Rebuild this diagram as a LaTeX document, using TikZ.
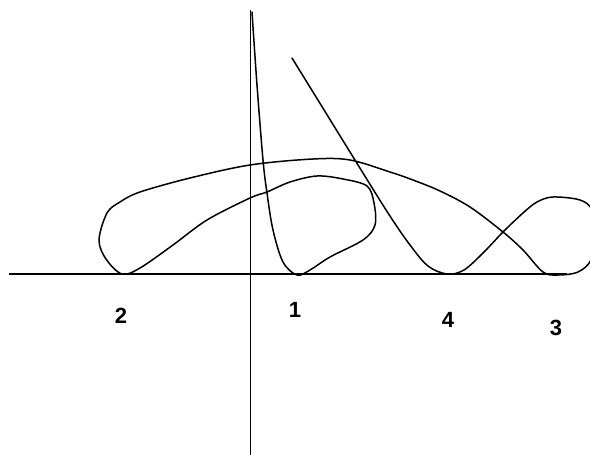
\documentclass[tikz,border=0pt]{standalone}
\usepackage{fontspec}
\setmainfont{Liberation Sans}
\begin{document}
\begin{tikzpicture}[x=1pt,y=-1pt,
  axisline/.style={line width=1.6pt,black},
  curveline/.style={line width=1.5pt,black,line join=round,line cap=round},
  digit/.style={font=\fontsize{22}{22}\selectfont\bfseries,inner sep=0pt}]
\useasboundingbox (0,0) rectangle (590,455);
\clip (0,0) rectangle (590,455);
% axes
\coordinate (xl) at (9,274);
\coordinate (xr) at (567,274);
\coordinate (yt) at (250.5,10);
\coordinate (yb) at (250.5,460);
\draw[axisline] (xl) -- (xr);
\draw[axisline] (yt) -- (yb);
% curve
\draw[curveline] plot[smooth,tension=0.55] coordinates {
  (292,58) (321,105) (350,152) (388,213) (410,245) (428,266) (447,274)
  (464,270) (484,252) (503,232) (523,213) (537,202) (553,197) (580,200)
  (592,210) (596,235) (591,260) (578,272) (558,275) (543,272)
  (523,250) (503,232) (470,207) (440,191) (413,180) (390,172) (350,160)
  (313,159) (250,165) (190,178) (140,192) (120,202) (107,213) (99,240)
  (106,259) (122,274) (140,268) (173,245) (207,220) (250,198) (267,192)
  (290,182) (317,176) (343,179) (367,186) (374,203) (375,225) (363,240)
  (330,257) (310,270) (297,275) (283,262) (273,230) (267,193) (263,160)
  (257,85) (252,12)
};
% labels
\node[digit] (l2) at (121,316) {2};
\node[digit] (l1) at (295,310) {1};
\node[digit] (l4) at (448,320) {4};
\node[digit] (l3) at (556,328) {3};
\end{tikzpicture}
\end{document}
